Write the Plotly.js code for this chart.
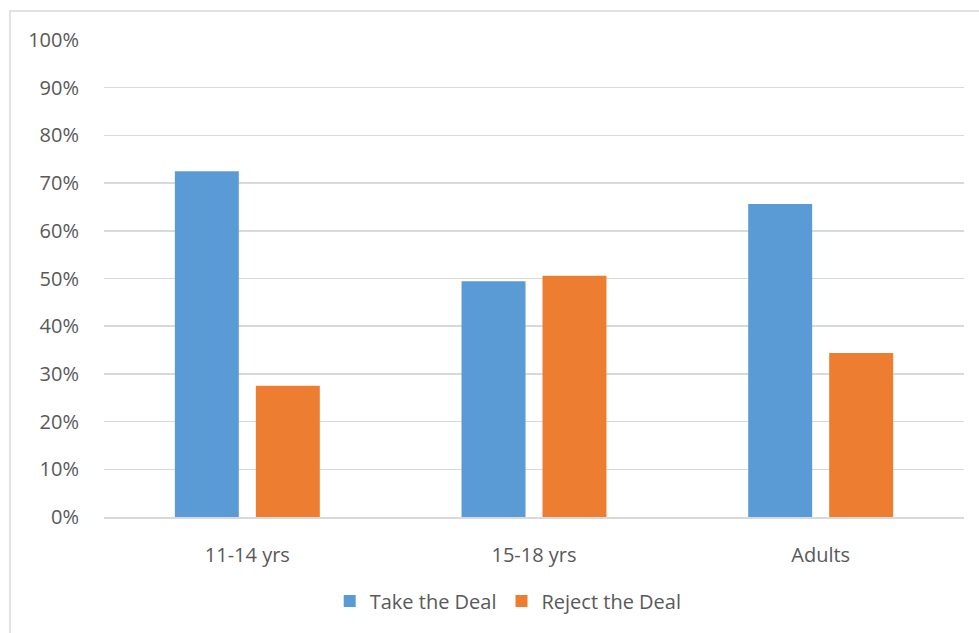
<!DOCTYPE html>
<html>
<head>
<meta charset="utf-8">
<script src="https://cdn.plot.ly/plotly-3.0.1.min.js"></script>
<style>
  html, body { margin: 0; padding: 0; background: #fff; }
  #chart { width: 979px; height: 633px; }
</style>
</head>
<body>
<div id="chart"></div>
<script>
// Age groups and share of respondents for each choice
const groups = ['11-14 yrs', '15-18 yrs', 'Adults'];
const takeDeal = [0.725, 0.494, 0.656];
const rejectDeal = [0.275, 0.506, 0.344];
const yTicks = [0, 0.1, 0.2, 0.3, 0.4, 0.5, 0.6, 0.7, 0.8, 0.9, 1.0];

const fontFamily = '"Open Sans", "Liberation Sans", sans-serif';
const textColor = '#595959';

const traces = [
  {
    type: 'bar', name: 'Take the Deal', x: groups, y: takeDeal,
    marker: { color: '#5B9BD5' }, hoverinfo: 'skip'
  },
  {
    type: 'bar', name: 'Reject the Deal', x: groups, y: rejectDeal,
    marker: { color: '#ED7D31' }, hoverinfo: 'skip'
  }
];

const layout = {
  width: 979, height: 633,
  margin: { l: 104, r: 15, t: 40, b: 116 },
  paper_bgcolor: '#fff', plot_bgcolor: '#fff',
  font: { family: fontFamily, color: textColor, size: 20 },
  barmode: 'group',
  bargap: 0.435,
  bargroupgap: 0.21,
  showlegend: true,
  legend: {
    orientation: 'h', x: 0.47, xanchor: 'center', y: -0.176, yanchor: 'middle',
    font: { family: fontFamily, color: textColor, size: 20 },
    itemwidth: 30, traceorder: 'normal'
  },
  xaxis: {
    showgrid: false, zeroline: false,
    showline: true, linecolor: '#d9d9d9', linewidth: 1.5,
    ticks: 'outside', ticklen: 19, tickcolor: 'rgba(0,0,0,0)',
    tickfont: { family: fontFamily, color: textColor, size: 20 }
  },
  yaxis: {
    range: [0, 1], tickvals: yTicks, tickformat: '.0%',
    showgrid: true, gridcolor: '#d9d9d9', gridwidth: 1.5,
    zeroline: false, showline: false,
    ticks: 'outside', ticklen: 20, tickcolor: 'rgba(0,0,0,0)',
    tickfont: { family: fontFamily, color: textColor, size: 20 },
    fixedrange: true
  },
  shapes: [
    {
      type: 'rect', xref: 'paper', yref: 'paper',
      x0: -0.1093, x1: 1.2, y0: -0.4, y1: 1.0608,
      line: { color: '#d9d9d9', width: 1.5 }, fillcolor: 'rgba(0,0,0,0)',
      layer: 'below'
    }
  ]
};

Plotly.newPlot('chart', traces, layout, { displayModeBar: false, staticPlot: true });
</script>
</body>
</html>
